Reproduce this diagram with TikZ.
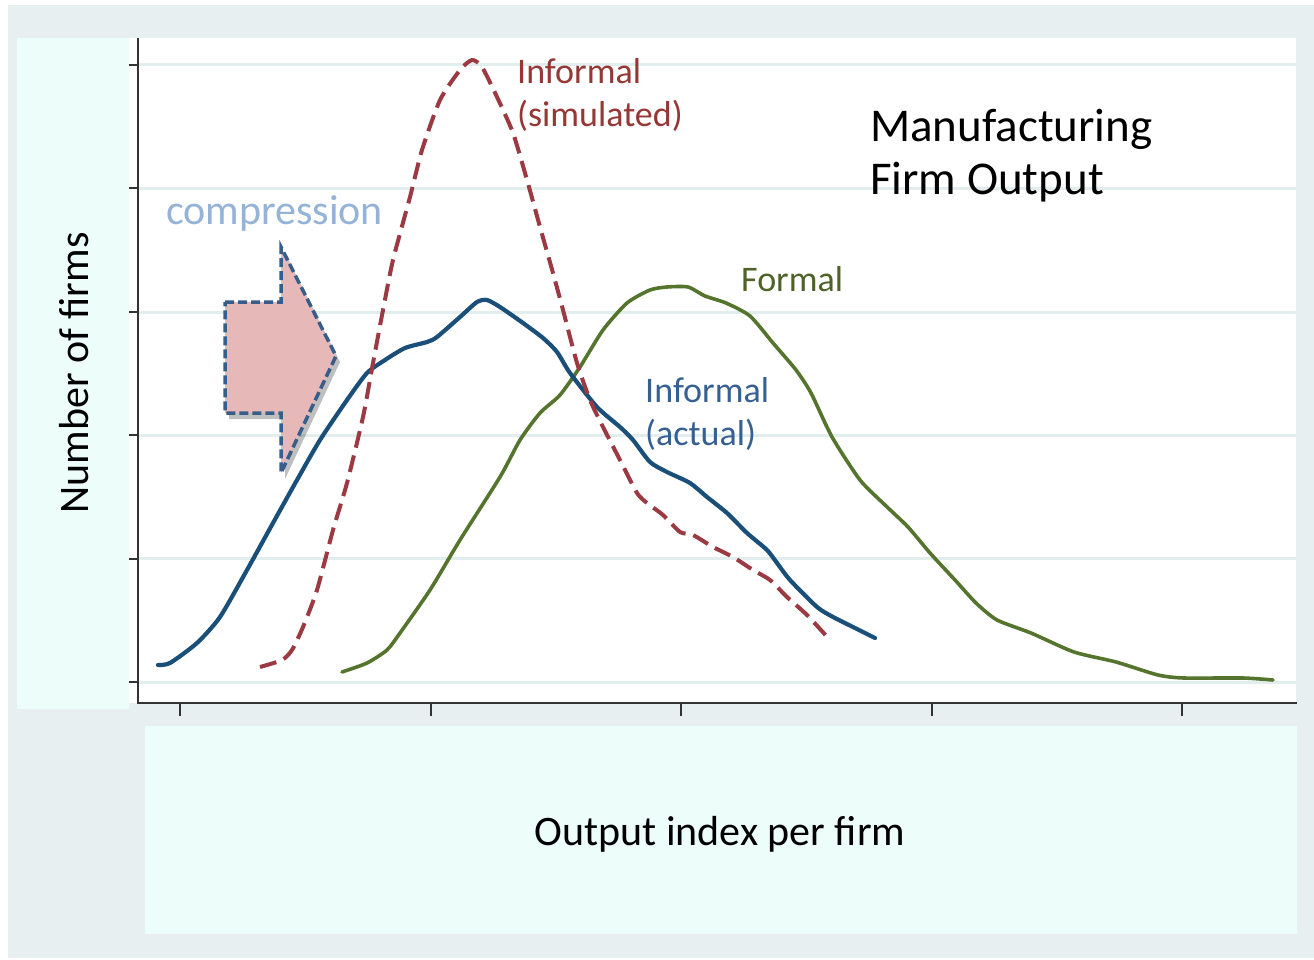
\documentclass[tikz,border=0pt]{standalone}
\usepackage{fontspec}
\setmainfont{Carlito}
\usepackage{xcolor}
\usepackage{tikz}
\usetikzlibrary{shadows}

\definecolor{bggray}{HTML}{E7EFF0}
\definecolor{panelc}{HTML}{EDFEFA}
\definecolor{gridc}{HTML}{E2EDEE}
\definecolor{axisc}{HTML}{333333}
\definecolor{actualc}{HTML}{1A4F7A}
\definecolor{simc}{HTML}{9B3A42}
\definecolor{formalc}{HTML}{55752F}
\definecolor{actualtxt}{HTML}{376092}
\definecolor{simtxt}{HTML}{953735}
\definecolor{formaltxt}{HTML}{4F6228}
\definecolor{comptxt}{HTML}{95B3D7}
\definecolor{arrowfill}{HTML}{E6B9B8}
\definecolor{arrowline}{HTML}{385D8A}

\begin{document}
\begin{tikzpicture}[x=1pt, y=-1pt,
    lbl/.style={inner sep=0pt, anchor=north west, align=left, font=\fontsize{36}{43}\selectfont},
    axtitle/.style={inner sep=0pt, anchor=base, font=\fontsize{42}{50}\selectfont},
    gline/.style={gridc, line width=3pt},
    axis/.style={axisc, line width=2pt},
    curve/.style={line width=4.2pt, line join=round, line cap=round},
    arrowbox/.style={fill=arrowfill, draw=arrowline, line width=3.5pt, dash pattern=on 9pt off 4pt,
        drop shadow={shadow xshift=4pt, shadow yshift=-6pt, fill=black, opacity=0.25}}]

    \useasboundingbox (0,0) rectangle (1314,960);
    \fill[bggray] (8,5) rectangle (1314,958);
    \fill[panelc] (17,38) rectangle (129,709);
    \fill[panelc] (145,726) rectangle (1297,934);
    \fill[white] (129,38) rectangle (1296,703);

    \foreach \y in {65,188.5,312,435,558.5,682} {
        \draw[gline] (138,\y) -- (1296,\y);
        \draw[axis] (129,\y) -- (138,\y);
    }
    \draw[axis] (138,38) -- (138,703) -- (1297,703);
    \foreach \x in {180,431,681,932,1182}
        \draw[axis] (\x,703) -- (\x,716);

    \draw[curve, formalc, line width=3.6pt] plot[smooth, tension=0.4] coordinates {
        (342,672) (367,663) (387,650) (400,633) (430,590) (460,540) (500,477) (520,440)
        (540,413) (560,395) (580,367) (603,330) (627,303) (650,290) (667,287) (688,287)
        (705,296) (726,303) (750,316) (773,343) (796,370) (811,393) (832,437) (860,480)
        (885,505) (908,527) (930,553) (955,580) (976,603) (997,620) (1031,633) (1074,652)
        (1116,662) (1158,675) (1184,678) (1243,678) (1273,680)};
    \draw[curve, actualc] plot[smooth, tension=0.4] coordinates {
        (158,665) (170,663) (197,643) (220,617) (247,570) (273,523) (297,480) (320,440)
        (347,400) (367,373) (385,360) (405,348) (427,342) (437,337) (460,317) (477,302)
        (487,300) (500,307) (523,323) (543,338) (557,352) (570,373) (597,407) (620,427)
        (633,440) (650,462) (667,472) (690,483) (707,497) (727,513) (747,533) (767,550)
        (777,563) (790,580) (817,607) (833,617) (853,627) (875,638)};
    \draw[curve, simc, line width=4pt, line cap=butt, dash pattern=on 17pt off 8pt] plot[smooth, tension=0.4] coordinates {
        (260,667) (282,660) (292,650) (303,627) (317,590) (333,530) (347,483) (363,417)
        (373,363) (383,310) (393,260) (410,197) (422,150) (440,100) (460,70) (472,60)
        (482,67) (497,97) (513,133) (527,180) (540,227) (553,273) (563,310) (577,363)
        (590,400) (603,427) (620,460) (637,493) (647,503) (663,515) (680,532) (693,535)
        (713,547) (733,557) (753,570) (770,580) (787,597) (807,615) (830,640)};

    \draw[arrowbox] (225,302) -- (281,302) -- (281,247) -- (336,356) -- (281,473)
        -- (281,413) -- (225,413) -- cycle;

    \node[lbl, simtxt] (simlbl) at (517,58) {Informal\\(simulated)};
    \node[lbl, actualtxt] (actlbl) at (645,377) {Informal\\(actual)};
    \node[lbl, formaltxt, anchor=base west] (formlbl) at (741,291) {Formal};
    \node[lbl, font=\fontsize{47}{53}\selectfont] (title) at (870,109) {Manufacturing\\Firm Output};
    \node[axtitle, comptxt, anchor=base west] (comp) at (166,225) {compression};
    \node[axtitle, rotate=90] (ytitle) at (88,373) {Number of firms};
    \node[axtitle] (xtitle) at (720,845) {Output index per firm};
\end{tikzpicture}
\end{document}
